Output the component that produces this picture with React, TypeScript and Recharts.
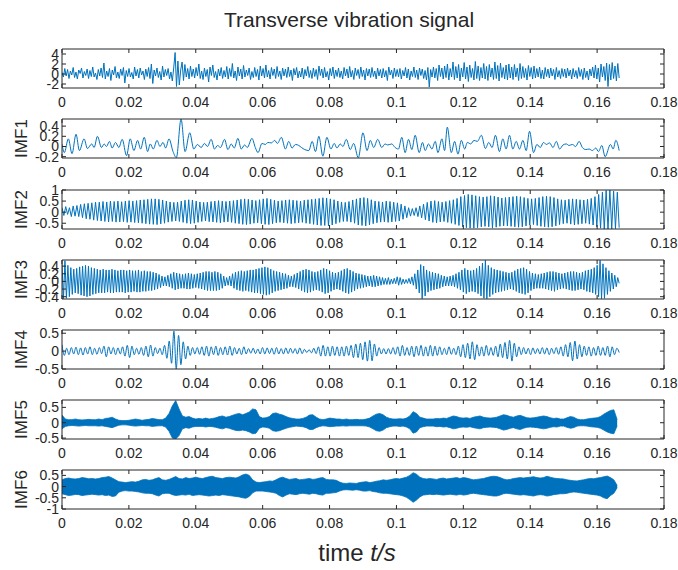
import { ComposedChart, Line, Area, XAxis, YAxis } from 'recharts';

// ─── Style tokens ──────────────────────────────────────────────────────────────
const BLUE = '#0072BD';
const INK = '#262626';
const FONT = '"Liberation Sans", Arial, Helvetica, sans-serif';

const T_END = 0.1666; // last sample time, s
const ENV_STEP = 0.001; // envelope sampling, s

// ─── Data ──────────────────────────────────────────────────────────────────────
const xTicks = [0, 0.02, 0.04, 0.06, 0.08, 0.1, 0.12, 0.14, 0.16, 0.18];

// raw transverse signal, evenly spaced samples
const rawSignal = [
  0.3, -0.6, 1.1, -0.4, 0.9, -0.9, 0.6, -0.2, 1.3, -0.7, 0.4, -1.0, 0.8, 0.1, 1.2, -0.8, 0.5, -0.3, 1.0, -0.9,
  0.7, -0.5, 1.4, -0.6, 0.2, -1.1, 0.9, -0.4, 1.2, -0.7, 2.2, -1.0, 0.6, -0.5, 1.1, -1.3, 0.8, -0.2, 1.5, -0.8,
  0.4, -0.9, 1.0, -0.3, 1.3, -1.8, 0.7, -0.5, 1.1, -0.6, 0.3, -1.0, 1.4, -0.4, 0.9, -0.8, 1.2, -0.2, 0.6, -1.1,
  1.0, -0.5, 1.3, -0.9, 2.0, -1.9, 0.8, -0.4, 1.2, -0.7, 0.5, -1.2, 1.6, -0.6, 0.9, -0.3, 1.1, -1.0, 0.4, -1.4,
  1.2, 4.3, -2.5, 2.6, -2.2, 0.8, 2.4, -1.3, 1.9, -0.6, 1.1, -1.0, 1.6, -0.5, 1.0, -0.8, 1.3, -0.4, 2.0, -0.9,
  0.6, -1.1, 1.2, -0.5, 0.9, -1.6, 1.4, -0.3, 1.8, -0.7, 0.5, -1.2, 1.0, -0.4, 1.3, -0.9, 0.7, -0.6, 1.5, -1.0,
  1.1, -0.5, 2.1, -0.8, 0.6, -1.3, 1.4, -0.4, 1.0, -1.0, 1.7, -0.6, 0.8, -0.3, 1.2, -1.1, 0.5, -0.7, 1.3, -0.5,
  0.9, -1.2, 1.6, -0.4, 1.1, -0.8, 1.8, -0.6, 0.7, -1.0, 1.3, -0.3, 1.0, -0.9, 1.5, -0.5, 0.6, -1.1, 1.2, -0.4,
  1.0, -0.7, 1.4, -0.5, 0.8, -1.3, 1.1, -0.2, 1.3, -0.8, 0.6, -0.6, 1.2, -1.0, 0.9, -0.4, 1.5, -0.7, 0.7, -0.9,
  1.2, -0.5, 0.9, -1.1, 1.6, -0.3, 1.0, -0.8, 1.3, -0.6, 0.5, -1.2, 1.1, -0.4, 1.4, -0.9, 0.8, -0.5, 1.2, -0.7,
  0.6, -1.0, 1.3, -0.4, 1.0, -0.8, 1.5, -0.6, 0.7, -1.1, 1.2, -0.3, 0.9, -0.9, 1.4, -0.5, 0.8, -1.2, 1.1, -0.4,
  1.0, -0.7, 1.3, -0.5, 0.6, -1.0, 1.2, -0.4, 0.9, -0.8, 1.1, -0.6, 0.7, -1.3, 1.4, -0.2, 0.8, -0.9, 1.2, -0.5,
  0.9, -0.6, 1.1, -1.0, 0.7, -0.4, 1.3, -0.8, 1.0, -1.2, 0.6, -0.5, 1.4, -0.7, 0.8, -1.1, 1.2, -0.3, 1.0, -0.9,
  0.7, -1.2, 1.3, -2.6, 0.9, -0.6, 1.4, -0.8, 1.1, -1.3, 1.8, -0.5, 1.2, -1.0, 1.6, -0.7, 2.0, -1.2, 1.1, -0.6,
  2.4, -1.1, 1.5, -0.8, 1.9, -1.4, 1.2, -0.6, 2.3, -1.0, 1.4, -1.5, 1.8, -0.7, 1.1, -1.2, 2.5, -0.9, 1.6, -1.3,
  1.3, -0.8, 2.1, -1.0, 1.5, -1.3, 1.9, -0.6, 1.2, -1.1, 2.4, -0.9, 1.7, -1.4, 2.2, -0.7, 1.3, -1.0, 1.8, -1.2,
  2.0, -0.8, 1.4, -1.1, 1.9, -0.6, 1.2, -1.3, 2.1, -0.9, 1.5, -0.7, 1.1, -1.2, 1.7, -0.5, 1.3, -1.0, 1.6, -0.8,
  1.1, -0.6, 1.4, -0.9, 0.8, -1.0, 1.3, -0.5, 1.0, -0.8, 1.2, -0.4, 0.9, -1.1, 1.3, -0.6, 0.7, -0.9, 1.1, -0.5,
  1.0, -0.8, 1.2, -0.4, 0.8, -1.0, 1.1, -0.6, 0.7, -0.9, 1.3, -0.5, 0.9, -1.1, 1.2, -0.7, 0.6, -1.2, 1.0, -0.4,
  1.4, -0.8, 1.8, -1.0, 1.2, -1.6, 2.0, -0.6, 1.5, -1.3, 2.2, -2.5, 1.9, -1.2, 2.3, -0.9, 1.6, -1.4, 2.1, -0.8,
];

// IMF1: turning points as [time in ms, value]
const imf1Turns: [number, number][] = [
  [0, 0.05], [0.7, -0.12], [1.9, 0.15], [3.0, -0.14], [4.2, 0.24], [5.2, -0.08], [6.6, 0.15], [7.6, -0.04],
  [8.9, 0.05], [9.6, -0.02], [10.6, 0.2], [11.8, -0.02], [12.6, 0.05], [13.3, 0.0], [14.2, 0.1], [15.0, -0.03],
  [16.0, 0.08], [17.0, -0.02], [18.0, 0.14], [19.3, -0.18], [20.4, 0.15], [21.5, -0.08], [22.6, 0.12], [23.5, -0.05],
  [24.6, 0.18], [25.6, -0.1], [26.4, 0.05], [27.3, -0.05], [28.4, 0.12], [29.3, 0.0], [30.2, 0.08], [31.0, -0.03],
  [32.0, 0.15], [33.2, -0.1], [34.2, -0.22], [35.6, 0.54], [36.8, -0.1], [38.2, 0.27], [39.4, -0.05], [40.5, 0.04],
  [41.6, -0.02], [42.6, 0.06], [43.5, 0.0], [44.6, 0.14], [45.6, -0.05], [46.5, 0.02], [47.4, -0.02], [48.6, 0.14],
  [49.6, -0.06], [50.6, 0.05], [51.5, -0.03], [52.6, 0.16], [53.6, -0.05], [54.6, 0.03], [55.4, -0.02], [56.8, 0.16],
  [57.8, -0.02], [58.6, -0.12], [59.8, 0.06], [60.8, 0.04], [61.6, 0.08], [62.6, 0.07], [63.6, 0.12], [64.4, 0.06],
  [65.6, 0.18], [66.8, -0.05], [67.8, 0.1], [68.8, -0.03], [69.8, 0.04], [70.8, 0.02], [71.6, -0.02], [72.6, -0.06],
  [73.8, -0.08], [74.8, 0.1], [75.8, -0.1], [76.8, 0.2], [78.0, -0.19], [79.2, 0.18], [80.4, -0.05], [81.4, 0.06],
  [82.2, -0.03], [83.2, 0.05], [84.0, 0.0], [85.0, 0.14], [86.2, -0.06], [87.2, 0.06], [88.6, -0.22], [90.0, 0.27],
  [91.2, -0.08], [92.2, 0.12], [93.2, -0.02], [94.4, 0.14], [95.6, -0.02], [96.6, 0.05], [97.4, 0.03], [98.6, 0.05],
  [99.6, -0.02], [100.6, -0.05], [101.6, 0.18], [102.6, -0.12], [103.6, 0.14], [104.6, -0.06], [105.6, 0.22], [106.8, -0.12],
  [107.8, 0.08], [108.6, -0.08], [109.6, 0.05], [110.6, -0.05], [111.6, 0.1], [112.4, -0.12], [113.6, 0.15], [114.4, -0.08],
  [115.2, 0.38], [116.4, -0.12], [117.4, 0.1], [118.4, -0.15], [119.4, 0.12], [120.4, -0.05], [121.2, 0.08], [122.2, 0.05],
  [123.2, 0.12], [124.2, 0.1], [125.4, 0.22], [126.6, -0.04], [127.6, 0.08], [128.6, -0.02], [129.6, 0.22], [130.8, -0.1],
  [131.8, 0.15], [132.8, -0.05], [133.8, 0.22], [134.8, -0.05], [135.8, 0.1], [136.8, -0.05], [137.8, 0.12], [138.8, -0.08],
  [139.8, 0.3], [141.0, -0.12], [142.0, 0.04], [143.0, -0.02], [144.0, 0.08], [144.8, 0.04], [145.8, 0.07], [146.8, -0.02],
  [147.8, 0.1], [148.8, -0.05], [149.8, 0.03], [150.8, 0.05], [151.6, 0.02], [152.6, 0.04], [153.6, 0.0], [154.6, 0.1],
  [155.6, -0.02], [156.6, -0.06], [157.6, -0.05], [158.6, -0.08], [159.6, -0.03], [160.4, -0.1], [161.4, 0.02], [162.4, -0.2],
  [164.0, 0.04], [164.8, -0.05], [165.6, 0.12], [166.6, -0.08],
];

// IMF2: alternating peaks/troughs, evenly spaced
const imf2 = [
  0.2, -0.15, 0.25, -0.1, 0.2, -0.2, 0.28, -0.18, 0.3, -0.2, 0.35, -0.25, 0.38, -0.3, 0.4, -0.32, 0.42, -0.36, 0.45, -0.38,
  0.45, -0.4, 0.48, -0.42, 0.46, -0.44, 0.5, -0.42, 0.48, -0.45, 0.5, -0.44, 0.47, -0.43, 0.5, -0.46, 0.52, -0.45, 0.5, -0.47,
  0.52, -0.48, 0.55, -0.5, 0.56, -0.52, 0.58, -0.54, 0.6, -0.55, 0.6, -0.56, 0.58, -0.53, 0.55, -0.5, 0.5, -0.45, 0.46, -0.42,
  0.44, -0.4, 0.45, -0.42, 0.5, -0.46, 0.54, -0.5, 0.56, -0.52, 0.55, -0.5, 0.5, -0.46, 0.46, -0.42, 0.44, -0.4, 0.45, -0.43,
  0.48, -0.44, 0.5, -0.46, 0.52, -0.48, 0.5, -0.45, 0.48, -0.44, 0.5, -0.46, 0.52, -0.5, 0.55, -0.52, 0.58, -0.55, 0.6, -0.56,
  0.58, -0.54, 0.55, -0.5, 0.52, -0.48, 0.56, -0.52, 0.6, -0.55, 0.62, -0.56, 0.58, -0.52, 0.54, -0.48, 0.5, -0.46, 0.52, -0.48,
  0.55, -0.5, 0.56, -0.52, 0.54, -0.5, 0.52, -0.48, 0.5, -0.46, 0.54, -0.5, 0.56, -0.52, 0.58, -0.55, 0.6, -0.58, 0.62, -0.6,
  0.65, -0.6, 0.64, -0.62, 0.6, -0.58, 0.56, -0.52, 0.5, -0.46, 0.46, -0.42, 0.44, -0.42, 0.48, -0.45, 0.55, -0.5, 0.6, -0.58,
  0.64, -0.6, 0.66, -0.62, 0.62, -0.58, 0.56, -0.52, 0.5, -0.48, 0.48, -0.45, 0.46, -0.44, 0.5, -0.46, 0.48, -0.44, 0.45, -0.42,
  0.42, -0.4, 0.36, -0.32, 0.28, -0.25, 0.2, -0.18, 0.16, -0.15, 0.2, -0.2, 0.28, -0.26, 0.36, -0.34, 0.44, -0.4, 0.5, -0.46,
  0.52, -0.48, 0.48, -0.44, 0.45, -0.42, 0.48, -0.46, 0.52, -0.5, 0.56, -0.55, 0.62, -0.6, 0.7, -0.66, 0.75, -0.7, 0.8, -0.72,
  0.78, -0.72, 0.74, -0.7, 0.7, -0.66, 0.68, -0.64, 0.7, -0.66, 0.74, -0.72, 0.72, -0.68, 0.68, -0.64, 0.64, -0.62, 0.66, -0.62,
  0.68, -0.64, 0.7, -0.66, 0.72, -0.68, 0.7, -0.66, 0.66, -0.62, 0.62, -0.58, 0.6, -0.56, 0.62, -0.6, 0.66, -0.64, 0.7, -0.66,
  0.72, -0.68, 0.7, -0.66, 0.66, -0.62, 0.6, -0.56, 0.56, -0.52, 0.54, -0.5, 0.58, -0.54, 0.6, -0.58, 0.58, -0.55, 0.56, -0.52,
  0.55, -0.5, 0.58, -0.54, 0.62, -0.58, 0.7, -0.66, 0.8, -0.72, 0.9, -0.76, 0.98, -0.76, 1.0, -0.76, 0.95, -0.74, 0.9, -0.7,
];

// IMF3: alternating peaks/troughs, evenly spaced
const imf3 = [
  0.45, -0.45, 0.54, -0.44, 0.42, -0.4, 0.36, -0.34, 0.32, -0.3, 0.34, -0.32, 0.38, -0.36, 0.4, -0.38, 0.42, -0.4, 0.4, -0.38,
  0.36, -0.34, 0.34, -0.32, 0.32, -0.3, 0.3, -0.3, 0.32, -0.3, 0.3, -0.28, 0.3, -0.3, 0.32, -0.3, 0.3, -0.28, 0.28, -0.28,
  0.3, -0.28, 0.3, -0.3, 0.28, -0.28, 0.3, -0.28, 0.28, -0.26, 0.28, -0.28, 0.3, -0.28, 0.26, -0.26, 0.28, -0.26, 0.26, -0.24,
  0.26, -0.24, 0.24, -0.22, 0.22, -0.2, 0.18, -0.16, 0.14, -0.12, 0.12, -0.12, 0.16, -0.14, 0.2, -0.18, 0.24, -0.22, 0.22, -0.2,
  0.2, -0.18, 0.18, -0.18, 0.2, -0.2, 0.22, -0.2, 0.2, -0.18, 0.18, -0.16, 0.2, -0.18, 0.22, -0.2, 0.24, -0.22, 0.26, -0.24,
  0.26, -0.24, 0.24, -0.24, 0.26, -0.24, 0.24, -0.22, 0.2, -0.18, 0.14, -0.12, 0.1, -0.1, 0.14, -0.12, 0.2, -0.18, 0.24, -0.22,
  0.26, -0.24, 0.28, -0.26, 0.26, -0.24, 0.28, -0.26, 0.3, -0.28, 0.3, -0.3, 0.32, -0.3, 0.34, -0.32, 0.36, -0.34, 0.38, -0.36,
  0.36, -0.34, 0.32, -0.3, 0.28, -0.26, 0.26, -0.24, 0.24, -0.22, 0.22, -0.2, 0.2, -0.18, 0.16, -0.14, 0.14, -0.14, 0.18, -0.16,
  0.22, -0.2, 0.26, -0.24, 0.3, -0.28, 0.32, -0.3, 0.3, -0.28, 0.26, -0.24, 0.24, -0.22, 0.26, -0.24, 0.3, -0.28, 0.34, -0.32,
  0.32, -0.3, 0.28, -0.26, 0.24, -0.22, 0.22, -0.2, 0.24, -0.22, 0.28, -0.26, 0.32, -0.3, 0.34, -0.32, 0.3, -0.28, 0.26, -0.24,
  0.22, -0.2, 0.2, -0.18, 0.18, -0.16, 0.16, -0.14, 0.14, -0.12, 0.14, -0.14, 0.16, -0.14, 0.14, -0.12, 0.12, -0.1, 0.1, -0.08,
  0.08, -0.08, 0.1, -0.08, 0.06, -0.06, 0.08, -0.06, 0.12, -0.1, 0.1, -0.08, 0.06, -0.06, 0.05, -0.05, 0.08, -0.06, 0.12, -0.1,
  0.2, -0.2, 0.3, -0.3, 0.44, -0.45, 0.4, -0.38, 0.3, -0.28, 0.26, -0.24, 0.24, -0.22, 0.22, -0.2, 0.2, -0.18, 0.16, -0.14,
  0.14, -0.12, 0.12, -0.12, 0.14, -0.12, 0.16, -0.14, 0.2, -0.18, 0.24, -0.22, 0.3, -0.28, 0.34, -0.32, 0.3, -0.28, 0.28, -0.26,
  0.3, -0.28, 0.34, -0.32, 0.4, -0.38, 0.48, -0.44, 0.55, -0.45, 0.42, -0.4, 0.36, -0.34, 0.32, -0.3, 0.3, -0.28, 0.28, -0.26,
  0.26, -0.24, 0.24, -0.22, 0.22, -0.2, 0.24, -0.22, 0.28, -0.26, 0.32, -0.3, 0.34, -0.32, 0.36, -0.34, 0.32, -0.3, 0.26, -0.24,
  0.22, -0.2, 0.2, -0.18, 0.18, -0.18, 0.2, -0.18, 0.22, -0.2, 0.24, -0.22, 0.26, -0.24, 0.26, -0.26, 0.24, -0.22, 0.22, -0.2,
  0.2, -0.18, 0.22, -0.2, 0.24, -0.22, 0.26, -0.24, 0.26, -0.24, 0.24, -0.22, 0.22, -0.2, 0.24, -0.22, 0.28, -0.26, 0.3, -0.28,
  0.32, -0.3, 0.36, -0.34, 0.42, -0.4, 0.55, -0.45, 0.46, -0.44, 0.36, -0.34, 0.28, -0.26, 0.22, -0.2, 0.16, -0.14, 0.1, -0.05,
];

// IMF4: alternating peaks/troughs, evenly spaced
const imf4 = [
  0.18, -0.12, 0.08, -0.1, 0.1, -0.08, 0.11, -0.1, 0.09, -0.11, 0.1, -0.08, 0.12, -0.1, 0.08, -0.09, 0.1, -0.07, 0.14, -0.16,
  0.12, -0.08, 0.1, -0.1, 0.09, -0.08, 0.12, -0.14, 0.16, -0.18, 0.14, -0.1, 0.08, -0.09, 0.1, -0.12, 0.14, -0.16, 0.17, -0.14,
  0.1, -0.07, 0.08, -0.1, 0.16, -0.2, 0.28, -0.34, 0.56, -0.5, 0.44, -0.38, 0.26, -0.22, 0.14, -0.12, 0.1, -0.08, 0.1, -0.09,
  0.12, -0.12, 0.14, -0.14, 0.12, -0.1, 0.14, -0.12, 0.1, -0.1, 0.12, -0.11, 0.14, -0.12, 0.1, -0.08, 0.08, -0.1, 0.12, -0.08,
  0.07, -0.06, 0.08, -0.07, 0.06, -0.08, 0.1, -0.08, 0.09, -0.07, 0.08, -0.09, 0.1, -0.08, 0.07, -0.08, 0.09, -0.07, 0.08, -0.06,
  0.07, -0.08, 0.09, -0.07, 0.05, -0.04, 0.04, -0.05, 0.08, -0.07, 0.12, -0.14, 0.16, -0.14, 0.12, -0.14, 0.14, -0.12, 0.12, -0.14,
  0.12, -0.14, 0.14, -0.12, 0.16, -0.18, 0.2, -0.18, 0.22, -0.24, 0.26, -0.28, 0.3, -0.27, 0.2, -0.14, 0.1, -0.08, 0.07, -0.08,
  0.07, -0.08, 0.1, -0.09, 0.12, -0.14, 0.16, -0.12, 0.1, -0.12, 0.14, -0.16, 0.14, -0.12, 0.16, -0.14, 0.12, -0.14, 0.16, -0.14,
  0.14, -0.12, 0.12, -0.1, 0.08, -0.1, 0.12, -0.09, 0.08, -0.1, 0.14, -0.16, 0.18, -0.18, 0.22, -0.22, 0.26, -0.24, 0.18, -0.14,
  0.12, -0.14, 0.16, -0.12, 0.1, -0.12, 0.14, -0.16, 0.2, -0.18, 0.24, -0.22, 0.3, -0.28, 0.22, -0.16, 0.12, -0.1, 0.1, -0.08,
  0.08, -0.1, 0.09, -0.07, 0.07, -0.08, 0.1, -0.08, 0.09, -0.1, 0.08, -0.07, 0.1, -0.09, 0.12, -0.14, 0.18, -0.16, 0.24, -0.27,
  0.28, -0.22, 0.18, -0.16, 0.14, -0.12, 0.12, -0.14, 0.1, -0.12, 0.14, -0.12, 0.1, -0.12, 0.14, -0.16, 0.12, -0.1, 0.08, -0.04,
];

// IMF5: upper / lower envelope, one value per millisecond
const imf5Upper = [
  0.25, 0.12, 0.1, 0.1, 0.12, 0.1, 0.09, 0.1, 0.11, 0.1,
  0.1, 0.12, 0.1, 0.14, 0.15, 0.18, 0.12, 0.08, 0.07, 0.07,
  0.08, 0.1, 0.12, 0.1, 0.08, 0.1, 0.11, 0.14, 0.12, 0.1,
  0.1, 0.15, 0.3, 0.55, 0.72, 0.45, 0.22, 0.18, 0.2, 0.15,
  0.12, 0.14, 0.12, 0.15, 0.12, 0.14, 0.16, 0.2, 0.22, 0.18,
  0.2, 0.24, 0.28, 0.3, 0.26, 0.3, 0.35, 0.45, 0.42, 0.2,
  0.15, 0.16, 0.2, 0.3, 0.32, 0.28, 0.25, 0.2, 0.16, 0.14,
  0.12, 0.12, 0.14, 0.18, 0.25, 0.26, 0.18, 0.12, 0.1, 0.12,
  0.15, 0.14, 0.12, 0.12, 0.1, 0.12, 0.1, 0.1, 0.11, 0.1,
  0.1, 0.12, 0.15, 0.22, 0.28, 0.3, 0.26, 0.18, 0.14, 0.12,
  0.12, 0.13, 0.12, 0.15, 0.22, 0.36, 0.3, 0.18, 0.15, 0.12,
  0.12, 0.12, 0.14, 0.13, 0.15, 0.14, 0.18, 0.22, 0.2, 0.16,
  0.15, 0.16, 0.14, 0.18, 0.2, 0.22, 0.18, 0.16, 0.15, 0.16,
  0.18, 0.22, 0.26, 0.24, 0.2, 0.18, 0.22, 0.24, 0.2, 0.16,
  0.15, 0.16, 0.18, 0.2, 0.22, 0.2, 0.16, 0.14, 0.15, 0.12,
  0.12, 0.16, 0.2, 0.18, 0.12, 0.1, 0.1, 0.12, 0.14, 0.15,
  0.16, 0.2, 0.28, 0.34, 0.4, 0.42, 0.1,
];
const imf5Lower = [
  -0.2, -0.12, -0.1, -0.09, -0.1, -0.11, -0.1, -0.09, -0.1, -0.1,
  -0.1, -0.11, -0.1, -0.12, -0.14, -0.16, -0.12, -0.08, -0.07, -0.07,
  -0.08, -0.1, -0.11, -0.1, -0.09, -0.1, -0.1, -0.12, -0.11, -0.1,
  -0.1, -0.14, -0.28, -0.5, -0.53, -0.42, -0.2, -0.16, -0.18, -0.14,
  -0.12, -0.12, -0.12, -0.14, -0.12, -0.13, -0.15, -0.18, -0.2, -0.16,
  -0.18, -0.22, -0.25, -0.26, -0.24, -0.26, -0.3, -0.36, -0.34, -0.18,
  -0.14, -0.15, -0.18, -0.26, -0.28, -0.26, -0.22, -0.18, -0.15, -0.13,
  -0.11, -0.12, -0.13, -0.16, -0.22, -0.22, -0.16, -0.12, -0.1, -0.11,
  -0.13, -0.12, -0.11, -0.11, -0.1, -0.11, -0.1, -0.1, -0.1, -0.1,
  -0.1, -0.11, -0.14, -0.2, -0.26, -0.28, -0.24, -0.16, -0.13, -0.11,
  -0.11, -0.12, -0.11, -0.14, -0.2, -0.34, -0.3, -0.16, -0.13, -0.11,
  -0.11, -0.11, -0.13, -0.12, -0.14, -0.13, -0.16, -0.2, -0.18, -0.15,
  -0.14, -0.15, -0.13, -0.16, -0.18, -0.2, -0.16, -0.15, -0.14, -0.15,
  -0.16, -0.2, -0.24, -0.22, -0.18, -0.16, -0.2, -0.22, -0.18, -0.15,
  -0.14, -0.15, -0.16, -0.18, -0.2, -0.18, -0.15, -0.13, -0.14, -0.11,
  -0.11, -0.15, -0.18, -0.16, -0.11, -0.1, -0.1, -0.11, -0.13, -0.14,
  -0.15, -0.18, -0.24, -0.3, -0.34, -0.36, -0.1,
];

// IMF6: upper / lower envelope, one value per millisecond
const imf6Upper = [
  0.3, 0.36, 0.38, 0.35, 0.34, 0.36, 0.4, 0.38, 0.35, 0.36,
  0.34, 0.36, 0.4, 0.42, 0.45, 0.38, 0.3, 0.22, 0.2, 0.18,
  0.2, 0.22, 0.2, 0.24, 0.3, 0.32, 0.28, 0.3, 0.36, 0.4,
  0.3, 0.28, 0.32, 0.38, 0.45, 0.36, 0.34, 0.4, 0.36, 0.38,
  0.42, 0.38, 0.36, 0.4, 0.44, 0.46, 0.4, 0.38, 0.36, 0.4,
  0.42, 0.4, 0.38, 0.44, 0.52, 0.56, 0.5, 0.3, 0.2, 0.18,
  0.2, 0.22, 0.25, 0.24, 0.3, 0.38, 0.42, 0.36, 0.32, 0.34,
  0.36, 0.3, 0.32, 0.34, 0.36, 0.32, 0.34, 0.38, 0.4, 0.32,
  0.3, 0.3, 0.28, 0.2, 0.15, 0.14, 0.16, 0.15, 0.14, 0.18,
  0.2, 0.22, 0.18, 0.2, 0.24, 0.26, 0.3, 0.28, 0.3, 0.34,
  0.36, 0.34, 0.38, 0.42, 0.5, 0.62, 0.55, 0.42, 0.36, 0.34,
  0.36, 0.34, 0.32, 0.36, 0.38, 0.34, 0.36, 0.38, 0.4, 0.36,
  0.4, 0.38, 0.34, 0.3, 0.32, 0.34, 0.36, 0.4, 0.44, 0.46,
  0.45, 0.4, 0.34, 0.3, 0.32, 0.36, 0.38, 0.4, 0.38, 0.4,
  0.42, 0.44, 0.4, 0.38, 0.4, 0.46, 0.42, 0.38, 0.36, 0.35,
  0.34, 0.3, 0.28, 0.26, 0.25, 0.28, 0.3, 0.34, 0.36, 0.35,
  0.38, 0.4, 0.44, 0.47, 0.4, 0.3, 0.05,
];
const imf6Lower = [
  -0.32, -0.36, -0.4, -0.38, -0.35, -0.36, -0.4, -0.38, -0.36, -0.34,
  -0.36, -0.38, -0.36, -0.4, -0.38, -0.44, -0.42, -0.25, -0.2, -0.18,
  -0.2, -0.2, -0.22, -0.24, -0.28, -0.3, -0.3, -0.32, -0.38, -0.42,
  -0.32, -0.3, -0.3, -0.36, -0.4, -0.38, -0.36, -0.38, -0.34, -0.4,
  -0.38, -0.36, -0.38, -0.4, -0.42, -0.4, -0.38, -0.4, -0.36, -0.38,
  -0.4, -0.42, -0.44, -0.46, -0.5, -0.52, -0.44, -0.28, -0.2, -0.2,
  -0.2, -0.22, -0.24, -0.26, -0.3, -0.4, -0.46, -0.38, -0.32, -0.34,
  -0.36, -0.32, -0.3, -0.32, -0.34, -0.3, -0.32, -0.36, -0.38, -0.3,
  -0.3, -0.28, -0.26, -0.2, -0.15, -0.14, -0.15, -0.16, -0.14, -0.16,
  -0.2, -0.2, -0.18, -0.22, -0.24, -0.28, -0.3, -0.3, -0.32, -0.34,
  -0.36, -0.38, -0.42, -0.48, -0.58, -0.7, -0.6, -0.46, -0.38, -0.36,
  -0.34, -0.36, -0.34, -0.36, -0.38, -0.36, -0.34, -0.36, -0.38, -0.34,
  -0.38, -0.36, -0.32, -0.3, -0.32, -0.34, -0.36, -0.38, -0.4, -0.42,
  -0.42, -0.38, -0.32, -0.3, -0.32, -0.34, -0.36, -0.38, -0.36, -0.38,
  -0.4, -0.42, -0.38, -0.36, -0.38, -0.42, -0.4, -0.36, -0.34, -0.32,
  -0.32, -0.3, -0.26, -0.24, -0.25, -0.28, -0.3, -0.32, -0.34, -0.36,
  -0.38, -0.42, -0.5, -0.54, -0.4, -0.3, -0.05,
];

// ─── Row builders ──────────────────────────────────────────────────────────────
type Row = { t: number; v: number | [number, number] };

function evenRows(vals: number[]): Row[] {
  return vals.map((v, i) => ({ t: (i * T_END) / (vals.length - 1), v }));
}

function turnRows(turns: [number, number][]): Row[] {
  return turns.map(([ms, v]) => ({ t: ms / 1000, v }));
}

function bandRows(upper: number[], lower: number[]): Row[] {
  return upper.map((u, i) => ({ t: i * ENV_STEP, v: [lower[i], u] as [number, number] }));
}

// ─── Panels ────────────────────────────────────────────────────────────────────
const BOX_H = 39;
const PAD_TOP = 9;
const AXIS_H = 27;

type PanelDef = {
  key: string;
  top: number;
  label?: string;
  data: Row[];
  domain: [number, number];
  ticks: number[];
  kind: 'line' | 'smooth' | 'band';
};

const panels: PanelDef[] = [
  { key: 'raw', top: 49, data: evenRows(rawSignal), domain: [-2.8, 5.0], ticks: [-2, 0, 2, 4], kind: 'line' },
  { key: 'imf1', top: 119, label: 'IMF1', data: turnRows(imf1Turns), domain: [-0.226, 0.54], ticks: [-0.2, 0, 0.2, 0.4], kind: 'smooth' },
  { key: 'imf2', top: 189.5, label: 'IMF2', data: evenRows(imf2), domain: [-0.76, 1.0], ticks: [-0.5, 0, 0.5, 1], kind: 'line' },
  { key: 'imf3', top: 260, label: 'IMF3', data: evenRows(imf3), domain: [-0.46, 0.56], ticks: [-0.4, -0.2, 0, 0.2, 0.4], kind: 'line' },
  { key: 'imf4', top: 330, label: 'IMF4', data: evenRows(imf4), domain: [-0.5, 0.59], ticks: [-0.5, 0, 0.5], kind: 'smooth' },
  { key: 'imf5', top: 400, label: 'IMF5', data: bandRows(imf5Upper, imf5Lower), domain: [-0.53, 0.74], ticks: [-0.5, 0, 0.5], kind: 'band' },
  { key: 'imf6', top: 470, label: 'IMF6', data: bandRows(imf6Upper, imf6Lower), domain: [-1.0, 0.74], ticks: [-1, -0.5, 0, 0.5], kind: 'band' },
];

const tickStyle = { fontSize: 14, fill: INK, fontFamily: FONT };
const blank = () => '';

function yTitle(text: string) {
  return (props: any) => {
    const vb = props.viewBox || { x: 0, y: 0, height: BOX_H };
    const cx = vb.x + 21;
    const cy = vb.y + vb.height / 2;
    return (
      <text
        x={cx}
        y={cy}
        dy="0.36em"
        textAnchor="middle"
        transform={`rotate(-90 ${cx} ${cy})`}
        fontSize={17}
        fontFamily={FONT}
        fill={INK}
      >
        {text}
      </text>
    );
  };
}

function Panel({ p }: { p: PanelDef }) {
  return (
    <div style={{ position: 'absolute', left: 0, top: p.top - PAD_TOP }}>
      <ComposedChart
        width={678}
        height={PAD_TOP + BOX_H + AXIS_H}
        data={p.data}
        margin={{ top: PAD_TOP - 1, right: 13, bottom: 0, left: 0 }}
      >
        <XAxis
          xAxisId="b"
          type="number"
          dataKey="t"
          domain={[0, 0.18]}
          ticks={xTicks}
          allowDataOverflow
          interval={0}
          height={AXIS_H}
          tickSize={-4}
          tickMargin={13}
          stroke={INK}
          tick={tickStyle}
        />
        <XAxis
          xAxisId="t"
          orientation="top"
          type="number"
          dataKey="t"
          domain={[0, 0.18]}
          ticks={xTicks}
          allowDataOverflow
          interval={0}
          height={1}
          tickSize={-4}
          tickFormatter={blank}
          stroke={INK}
        />
        <YAxis
          yAxisId="l"
          type="number"
          domain={p.domain}
          ticks={p.ticks}
          allowDataOverflow
          interval={0}
          width={62}
          tickSize={-4}
          tickMargin={7}
          stroke={INK}
          tick={tickStyle}
          label={p.label ? yTitle(p.label) : undefined}
        />
        <YAxis
          yAxisId="r"
          orientation="right"
          type="number"
          domain={p.domain}
          ticks={p.ticks}
          allowDataOverflow
          interval={0}
          width={1}
          tickSize={-4}
          tickFormatter={blank}
          stroke={INK}
        />
        {p.kind === 'band' ? (
          <Area
            xAxisId="b"
            yAxisId="l"
            dataKey="v"
            type="linear"
            stroke={BLUE}
            strokeWidth={0.8}
            fill={BLUE}
            fillOpacity={1}
            dot={false}
            activeDot={false}
            isAnimationActive={false}
          />
        ) : (
          <Line
            xAxisId="b"
            yAxisId="l"
            dataKey="v"
            type={p.kind === 'smooth' ? 'monotone' : 'linear'}
            stroke={BLUE}
            strokeWidth={1}
            dot={false}
            activeDot={false}
            isAnimationActive={false}
          />
        )}
      </ComposedChart>
    </div>
  );
}

export default function App() {
  return (
    <div style={{ position: 'relative', width: 678, height: 570, background: '#fff', fontFamily: FONT, color: INK }}>
      <style>{'body{margin:0}'}</style>
      <div style={{ position: 'absolute', top: 8, left: 149, width: 400, textAlign: 'center', fontSize: 21 }}>
        Transverse vibration signal
      </div>
      {panels.map(p => (
        <Panel key={p.key} p={p} />
      ))}
      <div style={{ position: 'absolute', top: 539, left: 257, width: 200, textAlign: 'center', fontSize: 24 }}>
        time <i>t/s</i>
      </div>
    </div>
  );
}
